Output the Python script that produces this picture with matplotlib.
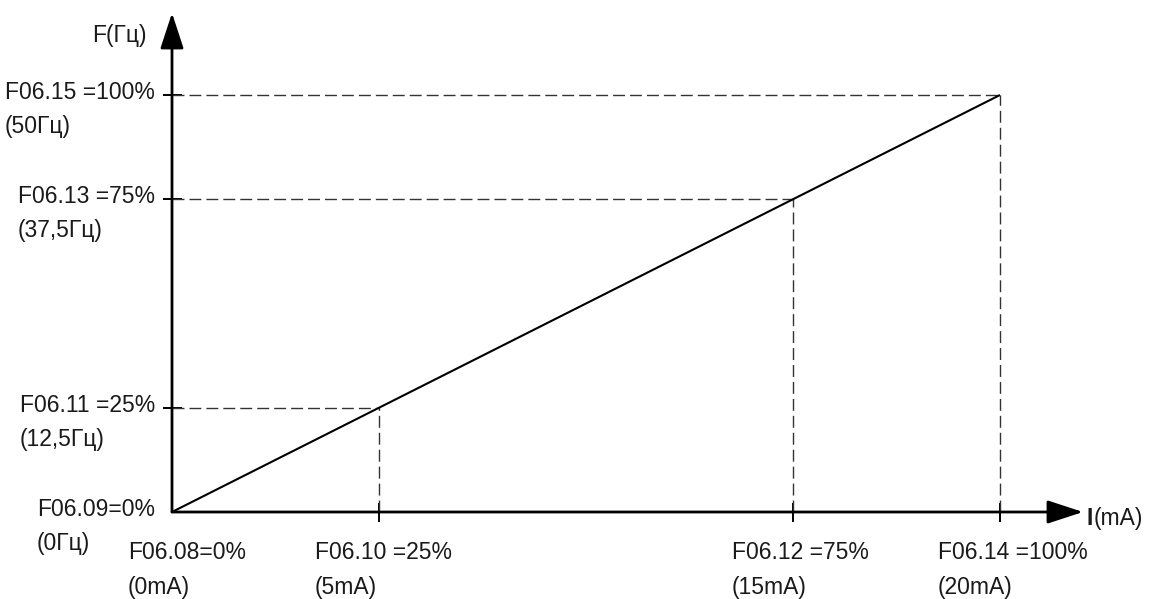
import matplotlib
matplotlib.use("Agg")
import matplotlib.pyplot as plt

# ---- data ----
current_mA = [0, 5, 15, 20]
freq_pct = [0, 25, 75, 100]
freq_hz = ["0", "12,5", "37,5", "50"]
x_params = ["F06.08", "F06.10", "F06.12", "F06.14"]
y_params = ["F06.09", "F06.11", "F06.13", "F06.15"]
x_sep = ["", " ", " ", " "]
y_sep = ["", " ", " ", " "]

# ---- layout (pixels) ----
W, H, DPI = 1154, 599, 100
ORIGIN = (172, 512)
PX_MA = 41.4
PX_PCT = 4.17
PT = 72.0 / DPI  # points per pixel

plt.rcParams['font.family'] = ['Liberation Sans', 'DejaVu Sans']
TXT = '#1a1a1a'
FS = 16.5
DESC = 0.21 * FS / PT  # approx descent in px

fig = plt.figure(figsize=(W / DPI, H / DPI), dpi=DPI)
ax = fig.add_axes([0, 0, 1, 1])
ax.set_xlim(-ORIGIN[0] / PX_MA, (W - ORIGIN[0]) / PX_MA)
ax.set_ylim(-(H - ORIGIN[1]) / PX_PCT, ORIGIN[1] / PX_PCT)
ax.patch.set_alpha(0)

x_tip = (1083 - ORIGIN[0]) / PX_MA
y_tip = (ORIGIN[1] - 13) / PX_PCT

# axes with arrows
for tip in [(x_tip, 0), (0, y_tip)]:
    ax.annotate('', xy=tip, xytext=(0, 0),
                arrowprops=dict(arrowstyle='-|>,head_length=2.2,head_width=0.72',
                                mutation_scale=10, lw=2, color='black',
                                shrinkA=0, shrinkB=0))

# ticks
for s in ax.spines.values():
    s.set_visible(False)
ax.spines['bottom'].set_position(('data', 0))
ax.spines['left'].set_position(('data', 0))
ax.set_xticks(current_mA[1:])
ax.set_yticks(freq_pct[1:])
ax.tick_params(axis='both', direction='inout', length=19 * PT, width=1.4,
               color='black', labelbottom=False, labelleft=False)

# dashed guides
dash = (8.6, 3.6)
for x, y in zip(current_mA[1:], freq_pct[1:]):
    ax.plot([0, x], [y, y], color='#333333', lw=1, dashes=dash)
    ax.plot([x, x], [0, y], color='#333333', lw=1, dashes=dash)

# main characteristic line
ax.plot(current_mA, freq_pct, color='black', lw=1.5, solid_capstyle='butt')


def two_line(first, second, xy, dx, dy, ha, gap):
    t1 = ax.annotate(first, xy=xy, xytext=(dx * PT, dy * PT),
                     textcoords='offset points', ha=ha, va='baseline',
                     fontsize=FS, color=TXT)
    ax.annotate(second, xy=(0, 0), xycoords=t1,
                xytext=(0, -(gap - DESC) * PT), textcoords='offset points',
                ha='left', va='baseline', fontsize=FS, color=TXT)


# y labels
for p, pct, hz, sep in zip(y_params, freq_pct, freq_hz, y_sep):
    two_line(f"{p}{sep}={pct}%", f"({hz}Гц)", (0, pct), -17, -4, 'right', 34)

# x labels
x_dx = [-44, -64, -61, -62]
for p, ma, pct, sep, dx in zip(x_params, current_mA, freq_pct, x_sep, x_dx):
    two_line(f"{p}{sep}={pct}%", f"({ma}mA)", (ma, 0), dx, -47, 'left', 35)

# axis titles
ax.annotate("F(Гц)", xy=(0, y_tip), xytext=(-25 * PT, -29 * PT),
            textcoords='offset points', ha='right', va='baseline',
            fontsize=FS, color=TXT)
t_i = ax.annotate("I", xy=(x_tip, 0), xytext=(4 * PT, -13 * PT),
                  textcoords='offset points', ha='left', va='baseline',
                  fontsize=FS, color=TXT, fontweight='bold')
ax.annotate("(mA)", xy=(1, 0), xycoords=t_i, ha='left', va='bottom',
            fontsize=FS, color=TXT)

fig.savefig("out.png", dpi=DPI)
